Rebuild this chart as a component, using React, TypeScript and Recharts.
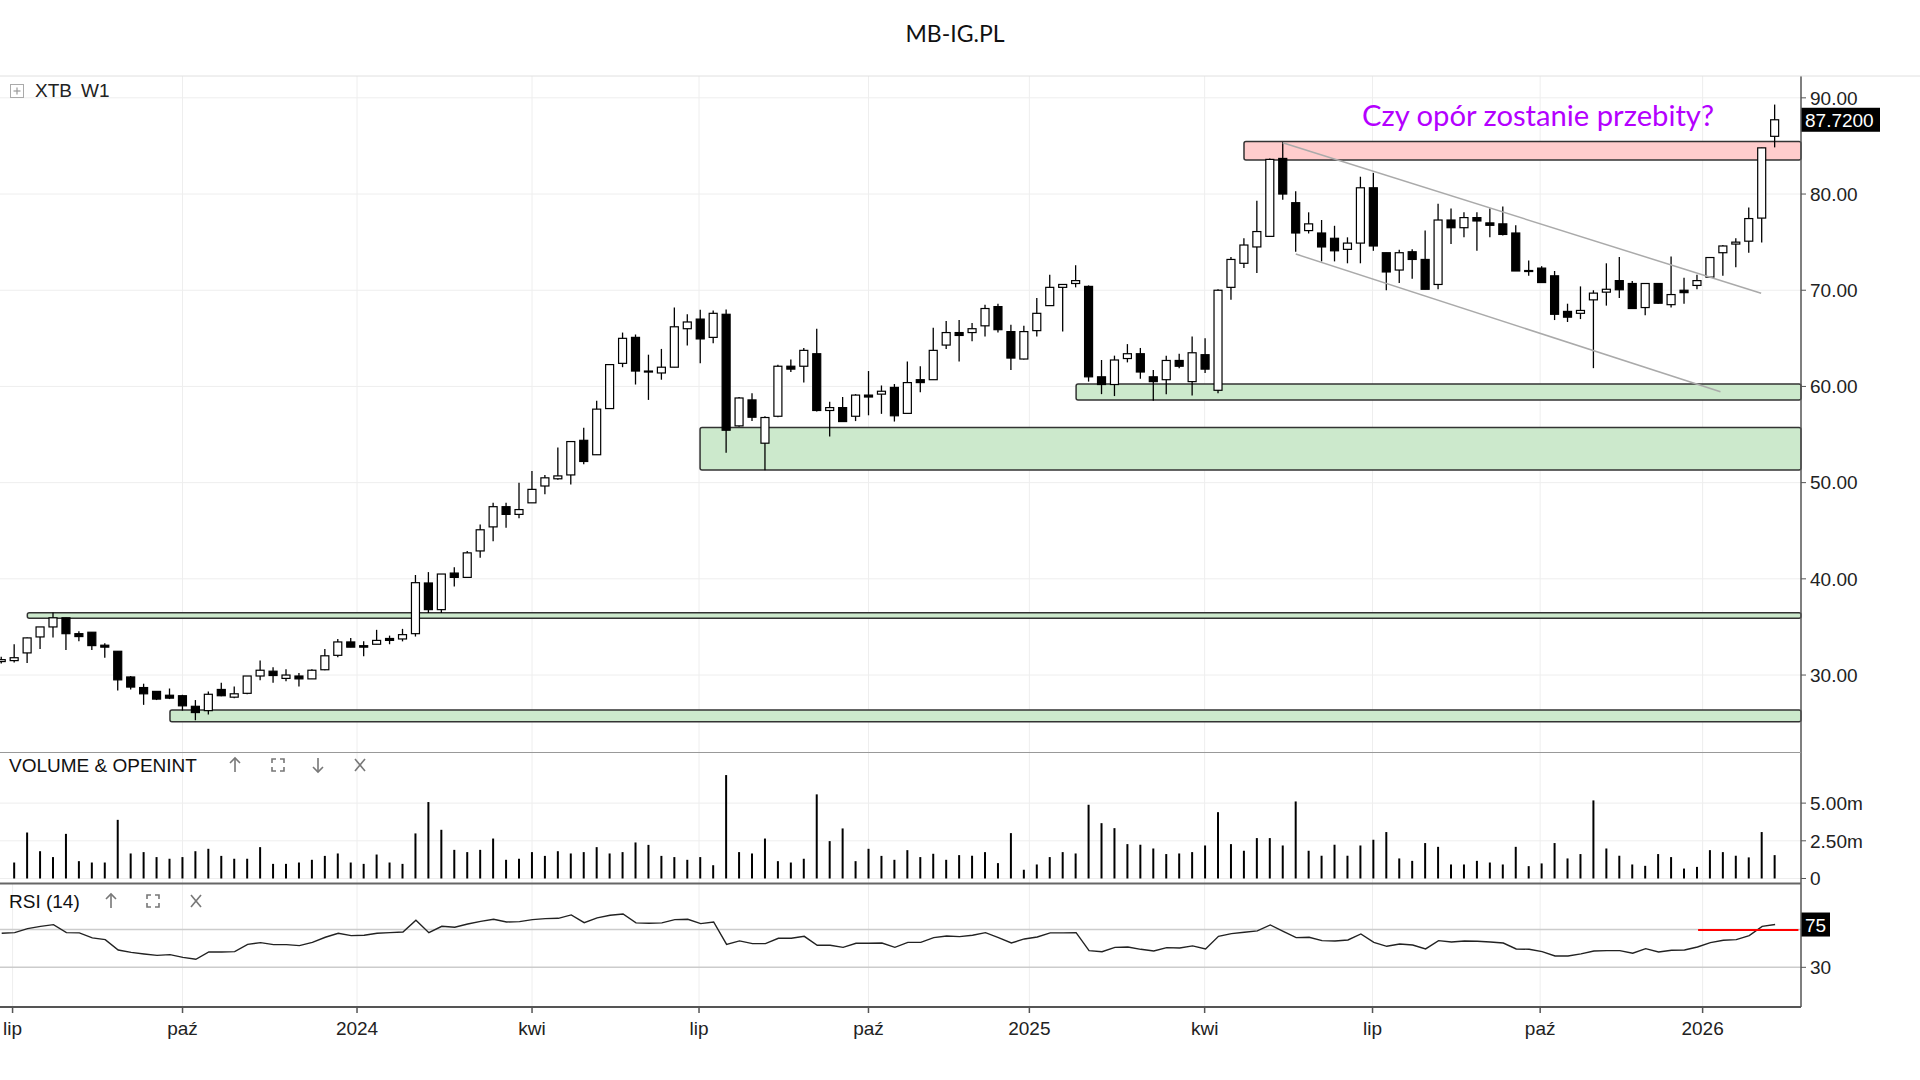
import React from 'react';
import {
  ComposedChart,
  Bar,
  Line,
  XAxis,
  YAxis,
  CartesianGrid,
  ReferenceLine,
  ReferenceArea,
} from 'recharts';

// ---------- data (weekly candles, index 1..138) ----------
const opens = [
  31.4, 31.5, 32.3, 33.96, 35.0, 35.95, 34.3, 34.45, 33.1, 32.47,
  29.8, 28.7, 28.3, 27.9, 27.85, 26.75, 26.3, 28.5, 27.7, 28.1,
  29.9, 30.4, 29.65, 29.9, 29.6, 30.55, 32.05, 33.44, 33.05, 33.2,
  33.8, 33.75, 34.3, 39.57, 36.8, 40.6, 40.15, 42.9, 45.4, 47.5,
  46.7, 47.9, 49.65, 50.4, 50.8, 54.4, 52.9, 57.7, 62.4, 65.1,
  61.5, 61.4, 62.0, 66.0, 67.0, 65.1, 67.5, 55.9, 58.6, 54.1,
  56.9, 62.1, 62.1, 63.4, 57.5, 57.8, 56.9, 59.1, 59.2, 59.9,
  57.2, 60.7, 60.7, 64.3, 65.6, 65.6, 66.3, 68.3, 65.7, 62.85,
  65.8, 68.4, 70.3, 70.7, 70.4, 61.0, 60.2, 62.9, 63.4, 61.0,
  60.7, 62.7, 60.5, 63.3, 59.6, 70.3, 72.8, 74.5, 75.6, 83.7,
  79.1, 76.2, 75.95, 75.4, 74.25, 74.9, 80.65, 73.9, 72.1, 74.0,
  73.2, 70.6, 77.3, 76.5, 77.55, 77.0, 76.9, 75.95, 72.05, 72.3,
  71.5, 67.8, 67.6, 69.0, 69.8, 71.0, 70.7, 68.2, 70.7, 68.5,
  70.0, 70.5, 71.36, 73.9, 74.8, 75.1, 77.5, 86.0,
];
const highs = [
  31.9, 33.2, 33.9, 35.0, 36.5, 35.95, 34.55, 34.45, 33.3, 32.5,
  29.9, 29.1, 28.3, 28.6, 27.95, 27.4, 28.3, 29.2, 28.8, 29.9,
  31.5, 30.8, 30.6, 30.2, 30.6, 32.7, 33.75, 33.86, 33.5, 34.7,
  34.1, 34.8, 40.4, 40.7, 40.5, 41.2, 42.9, 45.65, 47.9, 47.9,
  50.0, 51.2, 50.8, 53.65, 54.3, 55.7, 58.5, 62.3, 65.6, 65.4,
  63.3, 63.9, 68.2, 67.5, 67.97, 67.9, 68.0, 58.9, 59.3, 56.9,
  62.26, 62.8, 64.0, 66.0, 58.4, 58.9, 59.2, 61.6, 60.1, 60.25,
  62.6, 62.1, 66.1, 66.8, 66.9, 66.6, 68.5, 68.6, 66.4, 66.3,
  69.2, 71.6, 70.6, 72.6, 70.5, 62.75, 63.2, 64.4, 64.0, 61.7,
  63.2, 63.4, 65.2, 65.0, 70.1, 73.45, 75.4, 79.3, 83.7, 85.4,
  80.3, 78.1, 77.3, 76.7, 75.5, 81.8, 82.2, 73.9, 74.2, 74.25,
  76.2, 79.0, 78.5, 78.1, 78.1, 78.5, 78.7, 76.75, 73.1, 72.5,
  72.0, 68.6, 70.4, 70.0, 72.8, 73.45, 70.95, 70.7, 70.75, 73.5,
  71.3, 71.6, 73.4, 74.7, 75.4, 78.6, 84.8, 89.3,
];
const lows = [
  31.2, 31.3, 31.25, 32.7, 33.9, 32.6, 33.5, 32.6, 31.8, 28.4,
  28.5, 26.9, 27.4, 27.5, 26.3, 25.3, 25.9, 27.8, 27.6, 28.0,
  29.45, 29.2, 29.35, 28.8, 29.6, 30.5, 31.85, 32.9, 31.95, 33.2,
  33.2, 33.5, 34.0, 36.45, 36.45, 39.2, 40.1, 42.2, 43.9, 45.3,
  46.3, 47.9, 48.8, 50.3, 49.8, 51.9, 52.9, 57.7, 62.0, 60.2,
  58.6, 60.7, 62.0, 64.25, 62.4, 64.5, 53.1, 55.8, 56.4, 51.3,
  56.8, 61.5, 60.4, 57.4, 54.8, 56.35, 56.4, 57.0, 57.15, 56.35,
  57.2, 59.4, 60.7, 63.9, 62.6, 64.7, 65.2, 65.6, 61.7, 62.8,
  65.2, 68.4, 65.7, 70.3, 60.5, 59.2, 59.0, 62.5, 60.8, 58.5,
  59.2, 61.9, 59.05, 61.4, 59.3, 69.0, 72.3, 71.8, 75.6, 79.4,
  74.0, 75.9, 73.0, 73.0, 72.8, 72.8, 74.1, 70.0, 70.75, 71.2,
  70.1, 70.1, 74.8, 75.5, 74.1, 75.5, 75.7, 72.0, 71.5, 70.8,
  66.9, 66.7, 67.0, 61.9, 68.4, 69.2, 68.1, 67.4, 68.6, 68.2,
  68.6, 70.1, 71.3, 71.5, 72.4, 73.9, 74.95, 84.85,
];
const closes = [
  31.6, 31.8, 33.86, 35.0, 35.95, 34.3, 34.0, 33.06, 32.9, 29.5,
  28.75, 28.05, 27.5, 27.6, 26.8, 26.1, 28.0, 27.85, 28.05, 29.9,
  30.5, 29.95, 30.0, 29.6, 30.5, 32.0, 33.44, 32.9, 32.9, 33.6,
  33.6, 34.2, 39.6, 36.8, 40.5, 40.15, 42.7, 45.1, 47.5, 46.7,
  47.2, 49.3, 50.5, 50.7, 54.27, 52.2, 57.64, 62.27, 65.0, 61.6,
  61.6, 62.0, 66.2, 66.7, 64.94, 67.6, 55.45, 58.8, 56.8, 56.77,
  62.1, 61.8, 63.75, 57.5, 57.8, 56.35, 59.1, 58.9, 59.5, 56.95,
  60.4, 60.4, 63.75, 65.6, 65.3, 66.0, 68.1, 65.9, 62.95, 65.7,
  67.6, 70.3, 70.6, 71.0, 61.0, 60.2, 62.75, 63.4, 61.5, 60.5,
  62.7, 62.1, 63.5, 61.8, 70.0, 73.2, 74.7, 76.1, 83.6, 80.0,
  75.95, 76.9, 74.5, 74.1, 74.9, 80.65, 74.6, 71.9, 73.9, 73.2,
  70.1, 77.3, 76.5, 77.55, 77.2, 76.75, 75.8, 72.0, 72.0, 70.8,
  67.5, 67.2, 67.9, 69.7, 70.1, 70.05, 68.1, 70.7, 68.65, 69.55,
  69.75, 71.0, 73.4, 74.6, 75.0, 77.45, 84.8, 87.72,
];
// volume in millions
const volumes = [
  null, 1.06, 3.05, 1.81, 1.42, 2.96, 1.15, 1.06, 1.06, 3.89,
  1.66, 1.75, 1.42, 1.31, 1.42, 1.81, 1.97, 1.5, 1.31, 1.31,
  2.08, 0.97, 0.97, 1.06, 1.24, 1.5, 1.66, 1.06, 0.97, 1.59,
  1.06, 0.97, 2.99, 5.07, 3.23, 1.9, 1.75, 1.9, 2.65, 1.24,
  1.31, 1.75, 1.5, 1.81, 1.66, 1.75, 2.08, 1.66, 1.75, 2.39,
  2.23, 1.5, 1.42, 1.24, 1.42, 0.88, 6.86, 1.75, 1.66, 2.65,
  1.15, 1.06, 1.31, 5.58, 2.48, 3.32, 1.15, 1.97, 1.5, 1.24,
  1.88, 1.42, 1.64, 1.24, 1.55, 1.51, 1.75, 1.02, 3.01, 0.58,
  0.93, 1.42, 1.75, 1.66, 4.89, 3.67, 3.34, 2.28, 2.24, 1.99,
  1.62, 1.66, 1.75, 2.19, 4.4, 2.28, 1.84, 2.68, 2.68, 2.19,
  5.11, 1.84, 1.51, 2.24, 1.51, 2.19, 2.57, 3.08, 1.33, 1.17,
  2.35, 2.1, 0.93, 0.93, 1.17, 1.06, 0.93, 2.1, 0.82, 1.0,
  2.35, 1.33, 1.62, 5.18, 1.99, 1.51, 0.93, 0.84, 1.62, 1.42,
  0.66, 0.77, 1.88, 1.75, 1.51, 1.4, 3.08, 1.55,
];
const rsiValues = [
  66.1, 66.8, 71.1, 73.5, 75.3, 66.8, 66.5, 61.2, 59.4, 48.4,
  45.9, 44.2, 42.7, 43.5, 40.6, 38.5, 46.3, 46.3, 46.6, 54.4,
  56.2, 54.1, 54.1, 53.0, 56.5, 61.9, 66.1, 63.6, 64.0, 66.1,
  66.8, 67.5, 79.9, 66.8, 73.5, 72.5, 76.0, 78.8, 81.0, 78.1,
  78.5, 80.6, 81.7, 82.0, 85.6, 77.4, 82.4, 85.2, 86.6, 77.1,
  76.7, 77.1, 80.6, 81.0, 76.4, 78.1, 54.4, 58.0, 55.1, 55.1,
  60.8, 60.8, 62.9, 53.4, 53.4, 51.2, 55.5, 55.5, 55.8, 51.2,
  56.5, 56.5, 61.5, 63.3, 62.6, 64.0, 66.8, 61.5, 55.8, 60.1,
  62.2, 66.5, 66.5, 66.8, 47.7, 46.6, 51.2, 51.6, 49.1, 47.3,
  50.9, 50.5, 52.7, 49.5, 62.9, 65.8, 67.2, 68.6, 75.0, 68.2,
  61.5, 61.9, 58.3, 58.0, 59.0, 65.4, 56.5, 52.3, 54.8, 53.7,
  49.5, 58.3, 56.9, 58.0, 57.6, 56.9, 55.8, 49.5, 49.1, 46.6,
  42.0, 42.0, 44.2, 47.3, 47.7, 47.7, 44.9, 49.8, 46.3, 48.1,
  48.4, 51.6, 56.2, 58.7, 59.4, 63.6, 73.5, 75.4,
];

const monthTicks = [1.84, 14.97, 28.45, 41.97, 54.87, 67.96, 80.39, 93.93, 106.9, 119.85, 132.4];
const monthLabels = ['lip', 'paź', '2024', 'kwi', 'lip', 'paź', '2025', 'kwi', 'lip', 'paź', '2026'];
const priceTicks = [30, 40, 50, 60, 70, 80, 90];
const volumeTicks = [0, 2.5, 5];
const rsiTicks = [30];
const rsiLevels = [30, 70];

// zones: [x1, y1, y2]
const greenZones = [
  [2.98, 35.9, 36.48],
  [14.0, 25.15, 26.36],
  [54.95, 51.31, 55.73],
  [84.0, 58.59, 60.25],
];
const redZone = [96.97, 83.55, 85.45];
const channelUpper = [
  { x: 99.96, y: 85.33 },
  { x: 136.92, y: 69.68 },
];
const channelLower = [
  { x: 100.97, y: 73.76 },
  { x: 133.78, y: 59.44 },
];
const rsiSignal = { from: 132.05, to: 139.8, level: 69.7 };

const X_MIN = 0.869;
const X_MAX = 140.0;

const data = opens.map((o, k) => ({
  i: k + 1,
  o,
  h: highs[k],
  l: lows[k],
  c: closes[k],
  range: [lows[k], highs[k]],
  vol: volumes[k],
  rsi: rsiValues[k],
}));
const last = data[data.length - 1];

const FONT = 'Liberation Sans, Arial, sans-serif';
const tickStyle = { fontSize: 19, fill: '#222', fontFamily: FONT };

const Candle = (props: any) => {
  const { x, y, width, height, payload } = props;
  if (!payload || x == null || y == null) return null;
  const { o, h, l, c } = payload;
  const top = Math.min(y, y + height);
  const bot = Math.max(y, y + height);
  const span = h - l || 1;
  const py = (p: number) => top + ((h - p) / span) * (bot - top);
  const cx = x + width / 2;
  const yo = py(o);
  const yc = py(c);
  const bTop = Math.min(yo, yc);
  const bH = Math.max(Math.abs(yc - yo), 1);
  const up = c >= o;
  return (
    <g>
      <line x1={cx} x2={cx} y1={top} y2={bot} stroke="#000" strokeWidth={1.3} />
      <rect
        x={cx - 4}
        y={bTop}
        width={8}
        height={bH}
        fill={up ? '#fff' : '#000'}
        stroke="#000"
        strokeWidth={1.2}
      />
    </g>
  );
};

const tag = (text: string, w: number) => (props: any) => {
  const vb = props.viewBox || {};
  const left = (vb.x || 0) + (vb.width || 0);
  const y = vb.y || 0;
  return (
    <g>
      <rect x={left} y={y - 12} width={w} height={24} fill="#000" />
      <text x={left + 4} y={y + 7} fill="#fff" fontSize={19} fontFamily={FONT}>
        {text}
      </text>
    </g>
  );
};

const Expand = ({ cx, cy }: { cx: number; cy: number }) => (
  <g stroke="#777" strokeWidth={1.6} fill="none">
    <path d={`M${cx - 6},${cy - 2} V${cy - 6} H${cx - 2}`} />
    <path d={`M${cx + 2},${cy - 6} H${cx + 6} V${cy - 2}`} />
    <path d={`M${cx + 6},${cy + 2} V${cy + 6} H${cx + 2}`} />
    <path d={`M${cx - 2},${cy + 6} H${cx - 6} V${cy + 2}`} />
  </g>
);
const ArrowUp = ({ cx, cy }: { cx: number; cy: number }) => (
  <g stroke="#777" strokeWidth={1.6} fill="none">
    <path d={`M${cx},${cy + 7} V${cy - 7}`} />
    <path d={`M${cx - 5},${cy - 2} L${cx},${cy - 7} L${cx + 5},${cy - 2}`} />
  </g>
);
const ArrowDown = ({ cx, cy }: { cx: number; cy: number }) => (
  <g stroke="#777" strokeWidth={1.6} fill="none">
    <path d={`M${cx},${cy - 7} V${cy + 7}`} />
    <path d={`M${cx - 5},${cy + 2} L${cx},${cy + 7} L${cx + 5},${cy + 2}`} />
  </g>
);
const Close = ({ cx, cy }: { cx: number; cy: number }) => (
  <g stroke="#777" strokeWidth={1.6}>
    <line x1={cx - 5} y1={cy - 6} x2={cx + 5} y2={cy + 6} />
    <line x1={cx + 5} y1={cy - 6} x2={cx - 5} y2={cy + 6} />
  </g>
);

export default function App() {
  return (
    <div
      style={{
        position: 'absolute',
        left: 0,
        top: 0,
        width: 1920,
        height: 1080,
        background: '#fff',
        overflow: 'hidden',
        fontFamily: FONT,
      }}
    >
      <style>{'.recharts-surface{overflow:visible;} .recharts-wrapper{overflow:visible;}'}</style>
      {/* main price panel */}
      <div style={{ position: 'absolute', left: 0, top: 76 }}>
        <ComposedChart width={1920} height={676} data={data} margin={{ top: 0, right: 0, bottom: 0, left: 0 }}>
          <CartesianGrid stroke="#eeeeee" verticalValues={monthTicks} horizontalValues={priceTicks} />
          <XAxis type="number" dataKey="i" domain={[X_MIN, X_MAX]} allowDataOverflow hide ticks={monthTicks} />
          <YAxis
            orientation="right"
            width={119}
            domain={[22.0, 92.27]}
            allowDataOverflow
            ticks={priceTicks}
            interval={0}
            tickFormatter={(v: number) => v.toFixed(2)}
            tick={tickStyle}
            axisLine={{ stroke: '#555', strokeWidth: 1.5 }}
            tickLine={{ stroke: '#555' }}
            tickSize={5}
            tickMargin={4}
          />
          {greenZones.map((z, k) => (
            <ReferenceArea
              key={'g' + k}
              x1={z[0]}
              x2={X_MAX}
              y1={z[1]}
              y2={z[2]}
              fill="#cce9cc"
              fillOpacity={1}
              stroke="#333"
              strokeWidth={1.5}
              radius={2}
            />
          ))}
          <ReferenceArea
            x1={redZone[0]}
            x2={X_MAX}
            y1={redZone[1]}
            y2={redZone[2]}
            fill="#ffcccc"
            fillOpacity={1}
            stroke="#333"
            strokeWidth={1.5}
            radius={2}
          />
          <Bar dataKey="range" barSize={8} shape={<Candle />} isAnimationActive={false} />
          <ReferenceLine segment={channelUpper} stroke="#aaaaaa" strokeWidth={1.5} />
          <ReferenceLine segment={channelLower} stroke="#aaaaaa" strokeWidth={1.5} />
          <ReferenceLine y={last.c} stroke="none" label={tag(last.c.toFixed(4), 79)} />
        </ComposedChart>
      </div>

      {/* volume panel */}
      <div style={{ position: 'absolute', left: 0, top: 752 }}>
        <ComposedChart width={1920} height={132} data={data} margin={{ top: 0, right: 0, bottom: 0, left: 0 }}>
          <CartesianGrid stroke="#eeeeee" verticalValues={monthTicks} horizontalValues={volumeTicks} />
          <XAxis type="number" dataKey="i" domain={[X_MIN, X_MAX]} allowDataOverflow hide ticks={monthTicks} />
          <YAxis
            orientation="right"
            width={119}
            domain={[-0.365, 8.39]}
            allowDataOverflow
            ticks={volumeTicks}
            interval={0}
            tickFormatter={(v: number) => (v === 0 ? '0' : v.toFixed(2) + 'm')}
            tick={tickStyle}
            axisLine={{ stroke: '#555', strokeWidth: 1.5 }}
            tickLine={{ stroke: '#555' }}
            tickSize={5}
            tickMargin={4}
          />
          <Bar dataKey="vol" barSize={2} fill="#000" isAnimationActive={false} />
        </ComposedChart>
      </div>

      {/* RSI panel */}
      <div style={{ position: 'absolute', left: 0, top: 884 }}>
        <ComposedChart width={1920} height={173} data={data} margin={{ top: 0, right: 0, bottom: 0, left: 0 }}>
          <CartesianGrid stroke="#eeeeee" verticalValues={monthTicks} horizontal={false} />
          <XAxis
            type="number"
            dataKey="i"
            domain={[X_MIN, X_MAX]}
            allowDataOverflow
            ticks={monthTicks}
            interval={0}
            tickFormatter={(_v: number, idx: number) => monthLabels[idx]}
            tick={tickStyle}
            axisLine={{ stroke: '#555', strokeWidth: 2 }}
            tickLine={{ stroke: '#555', strokeWidth: 1.5 }}
            tickSize={6}
            tickMargin={9}
            height={50}
          />
          <YAxis
            orientation="right"
            width={119}
            domain={[-12.1, 118.4]}
            allowDataOverflow
            ticks={rsiTicks}
            interval={0}
            tick={tickStyle}
            axisLine={{ stroke: '#555', strokeWidth: 1.5 }}
            tickLine={{ stroke: '#555' }}
            tickSize={5}
            tickMargin={4}
          />
          {rsiLevels.map((lv) => (
            <ReferenceLine key={lv} y={lv} stroke="#cccccc" strokeWidth={1.5} />
          ))}
          <Line
            dataKey="rsi"
            type="linear"
            dot={false}
            stroke="#222"
            strokeWidth={1.4}
            isAnimationActive={false}
          />
          <ReferenceLine
            segment={[
              { x: rsiSignal.from, y: rsiSignal.level },
              { x: rsiSignal.to, y: rsiSignal.level },
            ]}
            stroke="#ff0000"
            strokeWidth={2}
          />
          <ReferenceLine y={last.rsi} stroke="none" label={tag(String(Math.round(last.rsi)), 29)} />
        </ComposedChart>
      </div>

      {/* texts and panel chrome */}
      <svg
        width={1920}
        height={1080}
        style={{ position: 'absolute', left: 0, top: 0, pointerEvents: 'none' }}
      >
        <text x={955} y={42} textAnchor="middle" fontFamily="Lato, sans-serif" fontSize={23} fill="#111">
          MB-IG.PL
        </text>
        <line x1={0} x2={1920} y1={76} y2={76} stroke="#e0e0e0" strokeWidth={1} />
        <line x1={0} x2={1801} y1={752.5} y2={752.5} stroke="#999" strokeWidth={1} />
        <line x1={0} x2={1801} y1={883.5} y2={883.5} stroke="#666" strokeWidth={2} />

        <rect x={10.5} y={84.5} width={13} height={13} fill="#fff" stroke="#aaa" strokeWidth={1} />
        <line x1={13.5} x2={20.5} y1={91} y2={91} stroke="#999" strokeWidth={1.2} />
        <line x1={17} x2={17} y1={87.5} y2={94.5} stroke="#999" strokeWidth={1.2} />
        <text x={35} y={97} fontFamily={FONT} fontSize={19} fill="#222">XTB</text>
        <text x={81} y={97} fontFamily={FONT} fontSize={19} fill="#222">W1</text>

        <text
          x={1362}
          y={125.5}
          fontFamily="Lato, sans-serif"
          fontSize={28}
          fill="#b400ff"
          textLength={352}
          lengthAdjust="spacingAndGlyphs"
        >
          Czy opór zostanie przebity?
        </text>

        <text x={9} y={772} fontFamily={FONT} fontSize={19} fill="#111">VOLUME &amp; OPENINT</text>
        <ArrowUp cx={235} cy={765} />
        <Expand cx={278} cy={765} />
        <ArrowDown cx={318} cy={765} />
        <Close cx={360} cy={765} />

        <text x={9} y={908} fontFamily={FONT} fontSize={19} fill="#111">RSI (14)</text>
        <ArrowUp cx={111} cy={901} />
        <Expand cx={153} cy={901} />
        <Close cx={196} cy={901} />
      </svg>
    </div>
  );
}
